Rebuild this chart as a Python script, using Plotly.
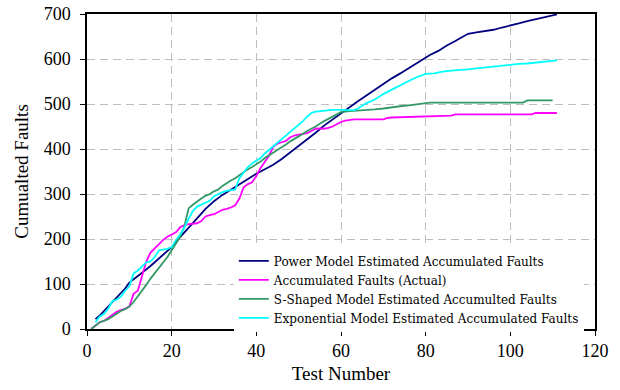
import plotly.graph_objects as go

# ---- data ----
names = [
    "Power Model Estimated Accumulated Faults",
    "Accumulated Faults (Actual)",
    "S-Shaped Model Estimated Accumulted Faults",
    "Exponential Model Estimated Accumulated Faults",
]
colors = ["#000080", "#FF00FF", "#339966", "#00FFFF"]

x_power = [2, 3, 5, 7, 9, 10, 11, 13, 15, 17, 19, 20, 22, 24, 26, 28, 30, 32, 34, 36, 38, 40,
           42, 44, 46, 48, 50, 52, 54, 56, 58, 60, 62, 64, 66, 68, 70, 72, 74, 76, 78, 80, 81,
           83, 85, 87, 89, 90, 92, 94, 96, 98, 100, 102, 104, 106, 108, 110, 111]
y_power = [22, 30, 50, 70, 90, 103, 111, 125, 140, 157, 172, 182, 204, 226, 246, 267, 284, 298,
           310, 322, 333, 345, 355, 365, 378, 392, 406, 420, 436, 452, 466, 480, 492, 506, 519,
           532, 544, 557, 568, 580, 592, 604, 609, 618, 630, 640, 651, 656, 659, 662, 665, 670,
           674, 679, 684, 688, 692, 696, 699]

x_actual = [1, 2, 3, 4, 5, 6, 7, 8, 9, 10, 11, 12, 13, 14, 15, 16, 17, 18, 19, 20, 21, 22, 23,
            24, 26, 27, 28, 29, 30, 31, 32, 33, 34, 35, 36, 37, 38, 39, 40, 41, 42, 43, 44, 45,
            46, 47, 48, 49, 50, 51, 52, 53, 54, 55, 56, 57, 58, 59, 60, 61, 62, 63, 70, 71, 72,
            77, 80, 86, 87, 105, 106, 111]
y_actual = [0, 8, 15, 18, 25, 30, 38, 42, 45, 50, 78, 85, 115, 150, 170, 180, 190, 198, 205,
            210, 215, 226, 231, 233, 235, 240, 250, 253, 255, 260, 265, 267, 270, 275, 290, 315,
            322, 326, 340, 358, 372, 385, 405, 412, 415, 418, 426, 430, 432, 433, 435, 440, 445,
            446, 445, 447, 450, 455, 460, 463, 464, 466, 466, 469, 470, 472, 472, 474, 477, 477,
            480, 480]

x_sshape = [1, 2, 3, 4, 5, 6, 7, 8, 9, 10, 11, 12, 13, 14, 15, 16, 17, 18, 19, 20, 21, 22, 23,
            24, 25, 26, 27, 28, 29, 30, 31, 32, 33, 34, 35, 36, 37, 38, 39, 40, 41, 42, 43, 44,
            45, 46, 47, 48, 49, 50, 52, 54, 56, 58, 59, 60, 62, 64, 66, 68, 70, 72, 74, 76, 78,
            80, 81, 90, 103, 104, 110]
y_sshape = [0, 8, 15, 18, 22, 28, 35, 40, 44, 50, 60, 72, 85, 98, 112, 124, 135, 146, 160, 175,
            190, 205, 228, 268, 276, 284, 290, 296, 300, 306, 310, 318, 325, 330, 335, 342, 348,
            355, 360, 366, 372, 380, 386, 392, 397, 404, 410, 417, 422, 428, 440, 450, 462, 472,
            478, 482, 484, 485, 486, 488, 490, 493, 495, 497, 499, 501, 503, 503, 503, 508, 508]

x_expo = [2, 3, 4, 5, 6, 7, 8, 9, 10, 11, 12, 13, 14, 15, 16, 17, 18, 19, 20, 21, 22, 23, 24,
          25, 26, 27, 28, 29, 30, 31, 32, 33, 34, 35, 36, 37, 38, 39, 40, 41, 42, 43, 44, 45,
          46, 47, 48, 49, 50, 51, 52, 53, 54, 56, 58, 60, 62, 63, 64, 65, 66, 68, 70, 72, 74,
          76, 78, 80, 82, 84, 86, 88, 90, 92, 94, 96, 98, 100, 102, 104, 106, 108, 110, 111]
y_expo = [15, 28, 33, 45, 62, 65, 72, 85, 95, 123, 130, 140, 148, 150, 160, 175, 176, 178, 182,
          198, 210, 225, 245, 262, 272, 276, 280, 285, 295, 300, 304, 307, 308, 310, 335, 348,
          360, 368, 375, 380, 390, 398, 405, 413, 422, 430, 438, 444, 452, 462, 472, 480, 483,
          485, 487, 487, 486, 486, 490, 496, 502, 510, 522, 532, 542, 551, 560, 567, 568, 572,
          574, 575, 577, 579, 581, 583, 585, 588, 589, 590, 592, 594, 596, 597]

x_ticks = [0, 20, 40, 60, 80, 100, 120]
y_ticks = [0, 100, 200, 300, 400, 500, 600, 700]

series = [(x_power, y_power), (x_actual, y_actual), (x_sshape, y_sshape), (x_expo, y_expo)]

fig = go.Figure()
for (xs, ys), name, col in zip(series, names, colors):
    fig.add_trace(go.Scatter(x=xs, y=ys, mode="lines", name=name,
                             line=dict(color=col, width=1.8)))

serif = "Liberation Serif, Times New Roman, serif"
axis_common = dict(
    showline=True, linecolor="black", linewidth=1.5, mirror=True,
    ticks="outside", ticklen=5, tickcolor="black", tickwidth=1,
    showgrid=True, gridcolor="#BEBEBE", gridwidth=1, griddash="8px,5px",
    zeroline=False, automargin=False,
    tickfont=dict(family=serif, size=18, color="black"),
)

fig.update_layout(
    width=620, height=390,
    margin=dict(l=87, r=25, t=14, b=61),
    paper_bgcolor="white", plot_bgcolor="white",
    font=dict(family=serif, color="black"),
    xaxis=dict(range=[0, 120], tickvals=x_ticks,
               title=dict(text="Test Number", font=dict(family=serif, size=19), standoff=6),
               **axis_common),
    yaxis=dict(range=[0, 700], tickvals=y_ticks, ticklabelstandoff=6,
               title=dict(text="Cumualted Faults", font=dict(family=serif, size=19), standoff=10),
               **axis_common),
    legend=dict(x=0.289, y=0.262, xanchor="left", yanchor="top",
                bgcolor="white", borderwidth=0,
                font=dict(family="DejaVu Serif", size=12, color="black"),
                tracegroupgap=0),
    showlegend=True,
)

# remove the browser's default 8px page margin so the figure fills the window exactly
fig.write_html("out.html",
               config={"displayModeBar": False},
               post_script="document.body.style.margin='0';document.body.style.overflow='hidden';")
